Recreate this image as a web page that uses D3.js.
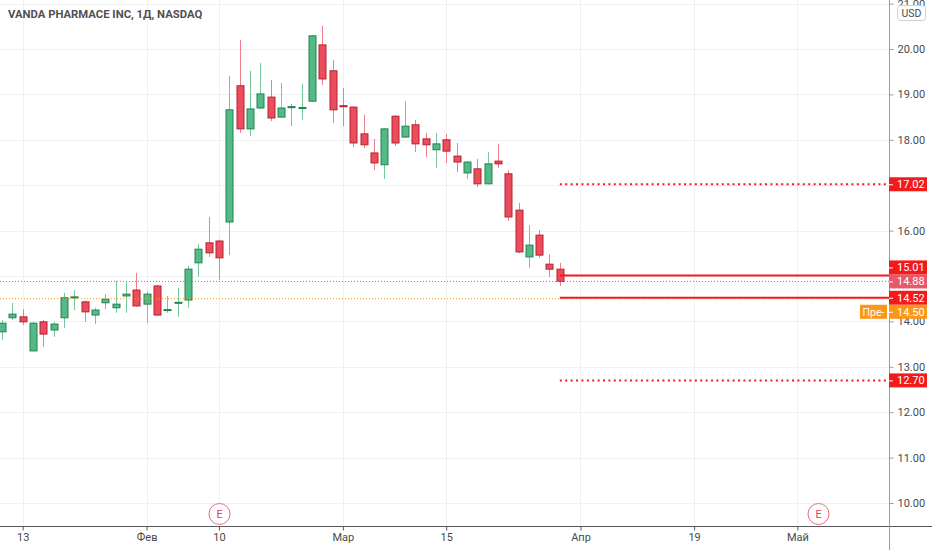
<!DOCTYPE html>
<html>
<head>
<meta charset="utf-8">
<script src="https://cdn.jsdelivr.net/npm/d3@7"></script>
<style>
    html, body { margin: 0; padding: 0; background: #ffffff; }
    svg { display: block; font-family: Roboto, "Liberation Sans", sans-serif; }
</style>
</head>
<body>
<svg id="chart" width="932" height="550"></svg>
<script>
// daily bars, Jan 11 - Mar 30 (one entry per trading day)
const title = 'VANDA PHARMACE INC, 1Д, NASDAQ';
const opens = [
    13.77, 14.08, 14.10, 13.35, 13.99, 13.81, 14.08, 14.52, 14.43, 14.14,
    14.41, 14.30, 14.56, 14.69, 14.38, 14.78, 14.24, 14.40, 14.47, 15.29,
    15.73, 15.77, 16.19, 19.19, 18.24, 18.70, 18.94, 18.50, 18.71, 18.69,
    18.85, 20.09, 19.52, 18.75, 18.72, 18.13, 17.71, 17.45, 18.52, 18.06,
    18.33, 18.02, 17.78, 18.00, 17.64, 17.27, 17.36, 17.03, 17.53, 17.25,
    16.45, 15.42, 15.90, 15.26, 15.15
];
const highs = [
    14.03, 14.41, 14.27, 13.99, 14.03, 13.99, 14.63, 14.69, 14.46, 14.30,
    14.60, 14.89, 14.89, 15.07, 14.65, 14.80, 14.56, 14.74, 15.22, 15.70,
    16.30, 15.80, 19.41, 20.20, 19.52, 19.69, 19.32, 19.25, 18.79, 19.23,
    20.30, 20.51, 19.76, 19.14, 18.74, 18.55, 18.02, 18.25, 18.54, 18.85,
    18.44, 18.15, 18.15, 18.13, 17.93, 17.52, 17.58, 17.73, 17.91, 17.33,
    16.61, 16.12, 16.01, 15.48, 15.29
];
const lows = [
    13.59, 14.03, 13.92, 13.34, 13.44, 13.66, 13.85, 14.25, 13.99, 13.94,
    14.27, 14.19, 14.19, 14.32, 13.96, 14.12, 14.19, 14.10, 14.30, 14.98,
    15.42, 14.91, 15.46, 18.15, 18.08, 18.68, 18.41, 18.49, 18.30, 18.44,
    18.84, 19.21, 18.37, 18.30, 17.84, 17.82, 17.33, 17.14, 17.86, 18.05,
    17.73, 17.62, 17.38, 17.49, 17.29, 17.14, 16.96, 17.02, 17.38, 16.21,
    15.50, 15.18, 15.40, 14.98, 14.78
];
const closes = [
    13.96, 14.16, 13.99, 13.96, 13.72, 13.94, 14.52, 14.54, 14.21, 14.25,
    14.49, 14.38, 14.60, 14.34, 14.60, 14.14, 14.26, 14.42, 15.15, 15.59,
    15.51, 15.40, 18.66, 18.24, 18.68, 19.01, 18.48, 18.70, 18.73, 18.71,
    20.29, 19.34, 18.66, 18.74, 17.93, 17.89, 17.49, 18.24, 17.93, 18.30,
    17.91, 17.89, 17.91, 17.75, 17.51, 17.51, 17.03, 17.47, 17.47, 16.30,
    15.53, 15.68, 15.46, 15.15, 14.88
];

// time axis: bar index (counted from Jan 11) of each labelled day
const timeTickLabels = ['13', 'Фев', '10', 'Мар', '15', 'Апр', '19', 'Май'];
const timeTickBars = [2, 14, 21, 33, 43, 56, 67, 77];
const earningsBars = [21, 79];

const priceTicks = [10, 11, 12, 13, 14, 15, 16, 17, 18, 19, 20, 21];
const currency = 'USD';

const lastPrice = 14.88;
const preMarketPrice = 14.50;
const preMarketTitle = 'Пре-';
const alertLevels = [15.01, 14.52];
const targetLevels = [17.02, 12.70];

class CandleChart {
    constructor(container) {
        this.svg = d3.select(container);

        this.params = {
            plot: { left: 0, right: 889, top: 0, bottom: 526 },
            firstBarX: 2,
            barSpacing: 10.33,
            bodyWidth: 7,
            priceRange: [9.493, 21.079],
            labelHeight: 14,
            labelWidth: 38,
            colors: {
                upFill: '#53b987',
                upBorder: '#23834f',
                upWick: '#74c69b',
                downFill: '#eb4d5c',
                downBorder: '#b8202f',
                downWick: '#f07d8a',
                grid: '#eef0f4',
                axisLine: '#9a9da5',
                timeLine: '#55585f',
                text: '#4a4a4a',
                alert: '#f21a1a',
                last: '#e9576b',
                pre: '#fb9616',
                earnings: '#ec6a85'
            }
        };

        this.bars = opens.map((open, i) => ({
            index: i,
            open: open,
            high: highs[i],
            low: lows[i],
            close: closes[i]
        }));

        this.layout();
    }

    layout() {
        const p = this.params;
        const span = p.plot.right - p.plot.left;

        this.x = d3.scaleLinear()
            .domain([-p.firstBarX / p.barSpacing, (span - p.firstBarX) / p.barSpacing])
            .range([p.plot.left, p.plot.right]);

        this.y = d3.scaleLinear()
            .domain(p.priceRange)
            .range([p.plot.bottom, p.plot.top]);

        this.labels = this.placeLabels();
    }

    // price labels go in priority order; later ones are pushed off earlier ones
    placeLabels() {
        const c = this.params.colors;
        const h = this.params.labelHeight;
        const labels = [
            { value: lastPrice, color: c.last },
            ...alertLevels.map(v => ({ value: v, color: c.alert })),
            ...targetLevels.map(v => ({ value: v, color: c.alert })),
            { value: preMarketPrice, color: c.pre, title: preMarketTitle }
        ];

        const placed = [];
        for (let label of labels) {
            let y = this.y(label.value);
            let hit = placed.find(o => Math.abs(o.y - y) < h);
            while (hit) {
                y = label.value > hit.value ? hit.y - h : hit.y + h;
                hit = placed.find(o => o !== hit && Math.abs(o.y - y) < h - 0.01);
            }
            label.y = y;
            placed.push(label);
        }
        return placed;
    }

    render() {
        this.renderGrid();
        this.renderCandles();
        this.renderLevels();
        this.renderAxes();
        this.renderPriceLabels();
        this.renderEarnings();
        this.renderTitle();
    }

    renderGrid() {
        const p = this.params;
        const grid = this.svg.append('g').attr('class', 'grid');

        grid.selectAll('line.h')
            .data(priceTicks)
            .enter()
            .append('line')
            .attr('x1', p.plot.left)
            .attr('x2', p.plot.right)
            .attr('y1', d => Math.round(this.y(d)) + 0.5)
            .attr('y2', d => Math.round(this.y(d)) + 0.5)
            .attr('stroke', p.colors.grid);

        grid.selectAll('line.v')
            .data(timeTickBars)
            .enter()
            .append('line')
            .attr('x1', d => Math.round(this.x(d)) + 0.5)
            .attr('x2', d => Math.round(this.x(d)) + 0.5)
            .attr('y1', p.plot.top)
            .attr('y2', p.plot.bottom)
            .attr('stroke', p.colors.grid);
    }

    renderCandles() {
        const c = this.params.colors;
        const w = this.params.bodyWidth;
        const isUp = d => d.close >= d.open;

        const candles = this.svg.append('g')
            .attr('class', 'candles')
            .selectAll('g')
            .data(this.bars)
            .enter()
            .append('g')
            .attr('transform', d => `translate(${Math.round(this.x(d.index)) + 0.5},0)`);

        candles.append('line')
            .attr('y1', d => this.y(d.high))
            .attr('y2', d => this.y(d.low))
            .attr('stroke', d => isUp(d) ? c.upWick : c.downWick);

        candles.append('rect')
            .attr('x', -w / 2)
            .attr('width', w)
            .attr('y', d => this.y(Math.max(d.open, d.close)))
            .attr('height', d => Math.max(1, Math.abs(this.y(d.open) - this.y(d.close))))
            .attr('fill', d => isUp(d) ? c.upFill : c.downFill)
            .attr('stroke', d => isUp(d) ? c.upBorder : c.downBorder);
    }

    renderLevels() {
        const p = this.params;
        const c = p.colors;
        const startX = this.x(this.bars.length - 1);
        const levels = this.svg.append('g').attr('class', 'levels');

        // full-width price lines
        levels.append('line')
            .attr('x1', p.plot.left)
            .attr('x2', p.plot.right)
            .attr('y1', this.y(lastPrice))
            .attr('y2', this.y(lastPrice))
            .attr('stroke', c.last)
            .attr('stroke-dasharray', '1,2');

        levels.append('line')
            .attr('x1', p.plot.left)
            .attr('x2', p.plot.right)
            .attr('y1', this.y(preMarketPrice))
            .attr('y2', this.y(preMarketPrice))
            .attr('stroke', c.pre)
            .attr('stroke-dasharray', '1,2');

        levels.selectAll('line.alert')
            .data(alertLevels)
            .enter()
            .append('line')
            .attr('x1', startX)
            .attr('x2', p.plot.right)
            .attr('y1', d => this.y(d))
            .attr('y2', d => this.y(d))
            .attr('stroke', c.alert)
            .attr('stroke-width', 2);

        levels.selectAll('line.target')
            .data(targetLevels)
            .enter()
            .append('line')
            .attr('x1', startX)
            .attr('x2', p.plot.right)
            .attr('y1', d => this.y(d))
            .attr('y2', d => this.y(d))
            .attr('stroke', c.alert)
            .attr('stroke-width', 2)
            .attr('stroke-dasharray', '2,3.4');
    }

    renderAxes() {
        const p = this.params;
        const c = p.colors;
        const h = p.labelHeight;

        // tick texts under a price label are not shown
        const isCovered = d => this.labels.some(l => Math.abs(l.y - this.y(d)) < h * 0.6);

        const priceAxis = d3.axisRight(this.y)
            .tickValues(priceTicks)
            .tickFormat(d3.format('.2f'))
            .tickSize(4)
            .tickPadding(4);

        const pa = this.svg.append('g')
            .attr('class', 'price-axis')
            .attr('transform', `translate(${p.plot.right + 0.5},0)`)
            .call(priceAxis);
        pa.select('.domain').remove();
        pa.selectAll('.tick line').attr('stroke', c.axisLine);
        pa.selectAll('.tick text')
            .attr('fill', c.text)
            .style('font-size', '11px')
            .style('font-family', 'Roboto, "Liberation Sans", sans-serif');
        pa.selectAll('.tick')
            .filter(isCovered)
            .select('text')
            .remove();

        const timeAxis = d3.axisBottom(this.x)
            .tickValues(timeTickBars)
            .tickFormat((d, i) => timeTickLabels[i])
            .tickSize(4)
            .tickPadding(3);

        const ta = this.svg.append('g')
            .attr('class', 'time-axis')
            .attr('transform', `translate(0,${p.plot.bottom + 0.5})`)
            .call(timeAxis);
        ta.select('.domain').remove();
        ta.selectAll('.tick line').attr('stroke', c.timeLine);
        ta.selectAll('.tick text')
            .attr('fill', c.text)
            .style('font-size', '11px')
            .style('font-family', 'Roboto, "Liberation Sans", sans-serif');

        this.svg.append('line')
            .attr('x1', 0)
            .attr('x2', 932)
            .attr('y1', p.plot.bottom + 0.5)
            .attr('y2', p.plot.bottom + 0.5)
            .attr('stroke', c.timeLine);

        this.svg.append('line')
            .attr('x1', p.plot.right + 0.5)
            .attr('x2', p.plot.right + 0.5)
            .attr('y1', 0)
            .attr('y2', 550)
            .attr('stroke', c.axisLine);

        // currency badge
        const badge = this.svg.append('g')
            .attr('transform', `translate(${p.plot.right + 8},5)`);
        badge.append('rect')
            .attr('x', 0.5)
            .attr('y', 0.5)
            .attr('width', 28)
            .attr('height', 15)
            .attr('rx', 3)
            .attr('fill', '#ffffff')
            .attr('stroke', '#cfd1d6');
        badge.append('text')
            .attr('x', 14.5)
            .attr('y', 8.5)
            .attr('dy', '0.35em')
            .attr('text-anchor', 'middle')
            .attr('fill', c.text)
            .style('font-size', '10.5px')
            .text(currency);
    }

    renderPriceLabels() {
        const p = this.params;
        const h = p.labelHeight;
        const g = this.svg.append('g').attr('class', 'price-labels');

        const items = g.selectAll('g')
            .data(this.labels)
            .enter()
            .append('g')
            .attr('transform', d => `translate(${p.plot.right},${d.y})`);

        items.append('rect')
            .attr('x', 0)
            .attr('y', -h / 2)
            .attr('width', p.labelWidth)
            .attr('height', h)
            .attr('fill', d => d.color);

        items.append('line')
            .attr('x1', 0)
            .attr('x2', 4)
            .attr('y1', 0.5)
            .attr('y2', 0.5)
            .attr('stroke', '#ffffff');

        items.append('text')
            .attr('x', 8)
            .attr('dy', '0.36em')
            .attr('fill', '#ffffff')
            .style('font-size', '11px')
            .text(d => d3.format('.2f')(d.value));

        const titled = items.filter(d => d.title);
        titled.append('rect')
            .attr('x', -29)
            .attr('y', -h / 2)
            .attr('width', 27)
            .attr('height', h)
            .attr('fill', d => d.color);
        titled.append('text')
            .attr('x', -15.5)
            .attr('dy', '0.36em')
            .attr('text-anchor', 'middle')
            .attr('fill', '#ffffff')
            .style('font-size', '10.5px')
            .text(d => d.title);
    }

    renderEarnings() {
        const c = this.params.colors;
        const y = this.params.plot.bottom - 12;

        const marks = this.svg.append('g')
            .attr('class', 'earnings')
            .selectAll('g')
            .data(earningsBars)
            .enter()
            .append('g')
            .attr('transform', d => `translate(${Math.round(this.x(d)) + 0.5},${y})`);

        marks.append('circle')
            .attr('r', 10.5)
            .attr('fill', '#ffffff')
            .attr('stroke', c.earnings);

        marks.append('text')
            .attr('dy', '0.36em')
            .attr('text-anchor', 'middle')
            .attr('fill', '#e0405e')
            .style('font-size', '11px')
            .text('E');
    }

    renderTitle() {
        this.svg.append('text')
            .attr('x', 8)
            .attr('y', 14)
            .attr('dy', '0.35em')
            .attr('fill', '#505050')
            .style('font-size', '11.3px')
            .style('font-weight', 'bold')
            .text(title);
    }
}

const chart = new CandleChart('#chart');
chart.render();
</script>
</body>
</html>
